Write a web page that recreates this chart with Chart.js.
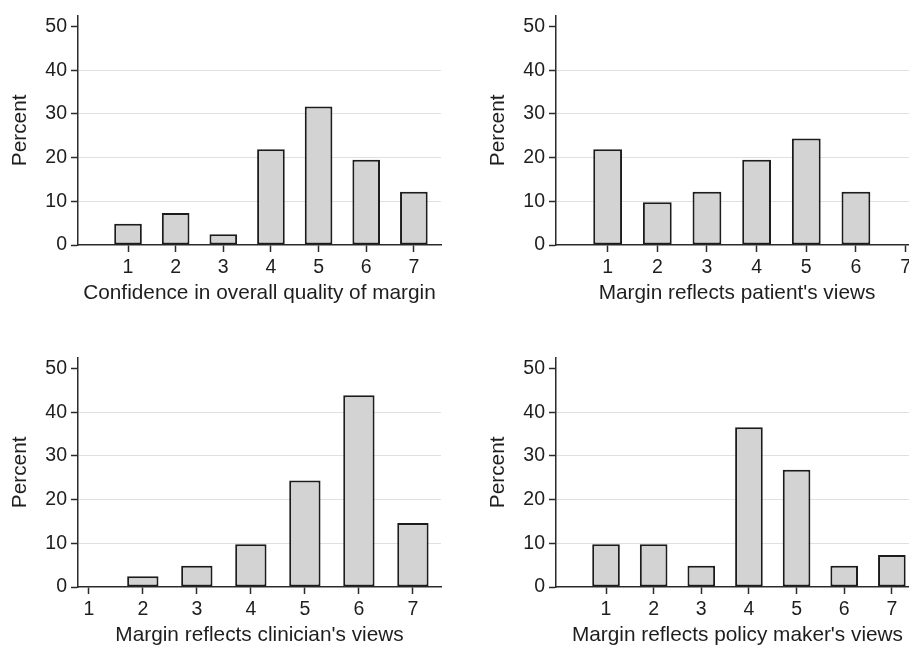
<!DOCTYPE html>
<html>
<head>
<meta charset="utf-8">
<script src="https://cdn.jsdelivr.net/npm/chart.js@4.4.0/dist/chart.umd.min.js"></script>
<style>
  html, body { margin: 0; padding: 0; background: #fff; overflow: hidden; width: 909px; height: 648px; }
  canvas { position: absolute; }
</style>
</head>
<body>
<canvas id="c1" width="455" height="320" style="left:0px;top:0px"></canvas>
<canvas id="c2" width="455" height="320" style="left:478px;top:0px"></canvas>
<canvas id="c3" width="455" height="320" style="left:0px;top:342px"></canvas>
<canvas id="c4" width="455" height="320" style="left:478px;top:342px"></canvas>
<script>
// response scale 1..7, percent of respondents (n = 41)
const scores = [1, 2, 3, 4, 5, 6, 7];
const qualityPct = [4.88, 7.32, 2.44, 21.95, 31.71, 19.51, 12.20];
const patientPct = [21.95, 9.76, 12.20, 19.51, 24.39, 12.20, 0];
const clinicianPct = [0, 2.44, 4.88, 9.76, 24.39, 43.90, 14.63];
const policyPct = [9.76, 9.76, 4.88, 36.59, 26.83, 4.88, 7.32];
const yTicks = [0, 10, 20, 30, 40, 50];

const ink = '#1e1e1e';
const axisColor = '#2a2a2a';
Chart.defaults.font.family = '"Liberation Sans", Arial, sans-serif';
Chart.defaults.color = ink;

function makePanel(id, values, xTitle, xMin, xMax, padRight) {
    const ctx = document.getElementById(id).getContext('2d');
    return new Chart(ctx, {
        type: 'bar',
        data: {
            datasets: [{
                data: scores.map((s, i) => ({ x: s, y: values[i] })),
                backgroundColor: '#d3d3d3',
                borderColor: '#1c1c1c',
                borderWidth: 2,
                borderSkipped: false,
                barPercentage: 0.58,
                categoryPercentage: 1
            }]
        },
        options: {
            responsive: false,
            devicePixelRatio: 1,
            animation: false,
            layout: { padding: { top: 10, right: padRight, left: 0, bottom: 0 } },
            plugins: { legend: { display: false }, tooltip: { enabled: false } },
            scales: {
                x: {
                    type: 'linear',
                    min: xMin,
                    max: xMax,
                    offset: false,
                    afterBuildTicks: s => { s.ticks = scores.map(v => ({ value: v })); },
                    afterFit: s => { s.height = 75; },
                    grid: { offset: false, drawOnChartArea: false, drawTicks: true, tickLength: 7, tickColor: axisColor, tickWidth: 1.5 },
                    border: { display: true, color: axisColor, width: 1.5 },
                    ticks: { color: ink, font: { size: 19.5 }, padding: 4, autoSkip: false, maxRotation: 0 },
                    title: { display: true, text: xTitle, color: ink, font: { size: 20.8 }, padding: { top: 0, bottom: 14 } }
                },
                y: {
                    min: 0,
                    max: 52.5,
                    afterBuildTicks: s => { s.ticks = yTicks.map(v => ({ value: v })); },
                    afterFit: s => { s.width = 78; },
                    grid: {
                        color: c => (c.tick && (c.tick.value === 0 || c.tick.value === 50)) ? 'rgba(0,0,0,0)' : '#e0e0e0',
                        lineWidth: 1,
                        drawTicks: true,
                        tickLength: 7,
                        tickColor: axisColor,
                        tickWidth: 1.5
                    },
                    border: { display: true, color: axisColor, width: 1.5 },
                    ticks: { color: ink, font: { size: 19.5 }, padding: 4 },
                    title: { display: true, text: 'Percent', color: ink, font: { size: 20.8 }, padding: { top: 8, bottom: 0 } }
                }
            }
        }
    });
}

makePanel('c1', qualityPct, 'Confidence in overall quality of margin', -0.05, 7.57, 14);
makePanel('c2', patientPct, "Margin reflects patient's views", -0.04, 7.25, 15);
makePanel('c3', clinicianPct, "Margin reflects clinician's views", 0.8, 7.52, 14);
makePanel('c4', policyPct, "Margin reflects policy maker's views", -0.05, 7.57, 14);
</script>
</body>
</html>
